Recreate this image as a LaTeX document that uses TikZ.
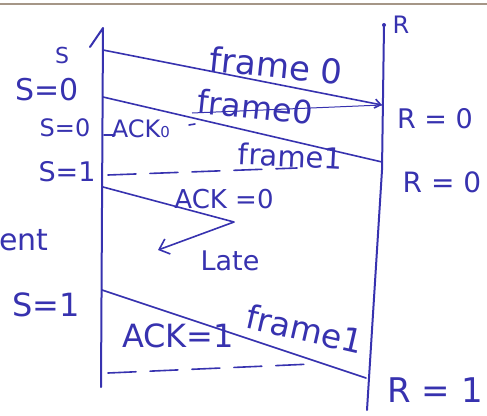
\documentclass[tikz,border=0pt]{standalone}
\usepackage{fontspec}
\setmainfont{DejaVu Sans}
\usetikzlibrary{arrows.meta,calc}
\definecolor{ink}{RGB}{55,50,175}
\definecolor{pageedge}{RGB}{165,150,135}
\begin{document}
\begin{tikzpicture}[x=1pt,y=-1pt,
  inkline/.style={draw=ink, line width=1.6pt, line cap=round, line join=round},
  timeline/.style={draw=ink, line width=2pt, line cap=round, line join=round},
  lostline/.style={inkline, dash pattern=on 28pt off 14pt},
  lbl/.style={text=ink, inner sep=0pt, outer sep=0pt, anchor=base},
  msgtip/.style={-{Straight Barb[length=6pt,width=9pt]}},
  latetip/.style={-{Straight Barb[length=9pt,width=16pt]}},
  fs/.style={font=\fontsize{#1}{#1}\selectfont}
]
\useasboundingbox (0,0) rectangle (487,415);
\coordinate (edgeL) at (0,4);
\coordinate (edgeR) at (487,4);
\draw[pageedge, line width=2pt] (edgeL) -- (edgeR);

% timelines
\coordinate (sTop) at (103,28);
\coordinate (sBot) at (101,387);
\coordinate (sBarb) at (90,47);
\coordinate (rTop) at (384,25);
\coordinate (rMid) at (382,170);
\coordinate (rBot) at (367,410);
\draw[timeline] (sBot) -- (sTop) -- (sBarb);
\fill[ink] (rTop) circle (2pt);
\draw[timeline] (rTop) -- (rMid) -- (rBot);

% frame 0
\coordinate (s1) at (103,50);
\coordinate (r1) at (382,105);
\draw[inkline, msgtip] (s1) -- (r1);
% frame 0 (again)
\coordinate (s2) at (103,97);
\coordinate (r2) at (382,162);
\draw[inkline] (s2) -- (r2);
\coordinate (u1) at (192,113);
\draw[draw=ink, line width=1pt] (u1) -- (r1);
% ACK0 stub
\coordinate (a0s) at (104,135);
\coordinate (a0e) at (115,135);
\draw[inkline] (a0s) -- (a0e);
\coordinate (a0d1) at (189,125);
\coordinate (a0d2) at (195,124);
\draw[inkline] (a0d1) -- (a0d2);
% frame1 lost (dashed)
\coordinate (s3) at (108,175);
\coordinate (l3) at (297,168);
\draw[lostline] (s3) -- (l3);
% ACK = 0 late
\coordinate (s4) at (103,187);
\coordinate (k4) at (234,222);
\coordinate (t4) at (158,250);
\draw[inkline, latetip] (s4) -- (k4) -- (t4);
% frame1 again
\coordinate (s5) at (102,290);
\coordinate (r5) at (366,378);
\draw[inkline] (s5) -- (r5);
% dashed bottom
\coordinate (s6) at (108,373);
\coordinate (l6) at (312,364);
\draw[lostline] (s6) -- (l6);

% labels
\node[lbl, fs=34, rotate=-6] (f0a) at (275,78) {frame 0};
\node[lbl, fs=32, rotate=-6] (f0b) at (254,119) {frame0};
\node[lbl, fs=24] (ack0) at (141,137) {ACK{\fontsize{15}{15}\selectfont 0}};
\node[lbl, fs=29, rotate=-3] (f1a) at (290,167) {frame1};
\node[lbl, fs=26] (ackz) at (224,208) {ACK =0};
\node[lbl, fs=27] (late) at (230,270) {Late};
\node[lbl, fs=33, rotate=-13] (f1b) at (302,341) {frame1};
\node[lbl, fs=32] (acko) at (178,347) {ACK=1};

\node[lbl, fs=22] (sName) at (62,63) {S};
\node[lbl, fs=30] (sv1) at (47,100) {S=0};
\node[lbl, fs=24] (sv2) at (65,136) {S=0};
\node[lbl, fs=27] (sv3) at (67,181) {S=1};
\node[lbl, fs=30, anchor=base west] (ent) at (-1,250) {ent};
\node[lbl, fs=32] (sv4) at (46,316) {S=1};

\node[lbl, fs=24] (rName) at (401,33) {R};
\node[lbl, fs=27] (rv1) at (435,128) {R = 0};
\node[lbl, fs=28] (rv2) at (442,192) {R = 0};
\node[lbl, fs=34] (rv3) at (435,402) {R = 1};
\end{tikzpicture}
\end{document}
